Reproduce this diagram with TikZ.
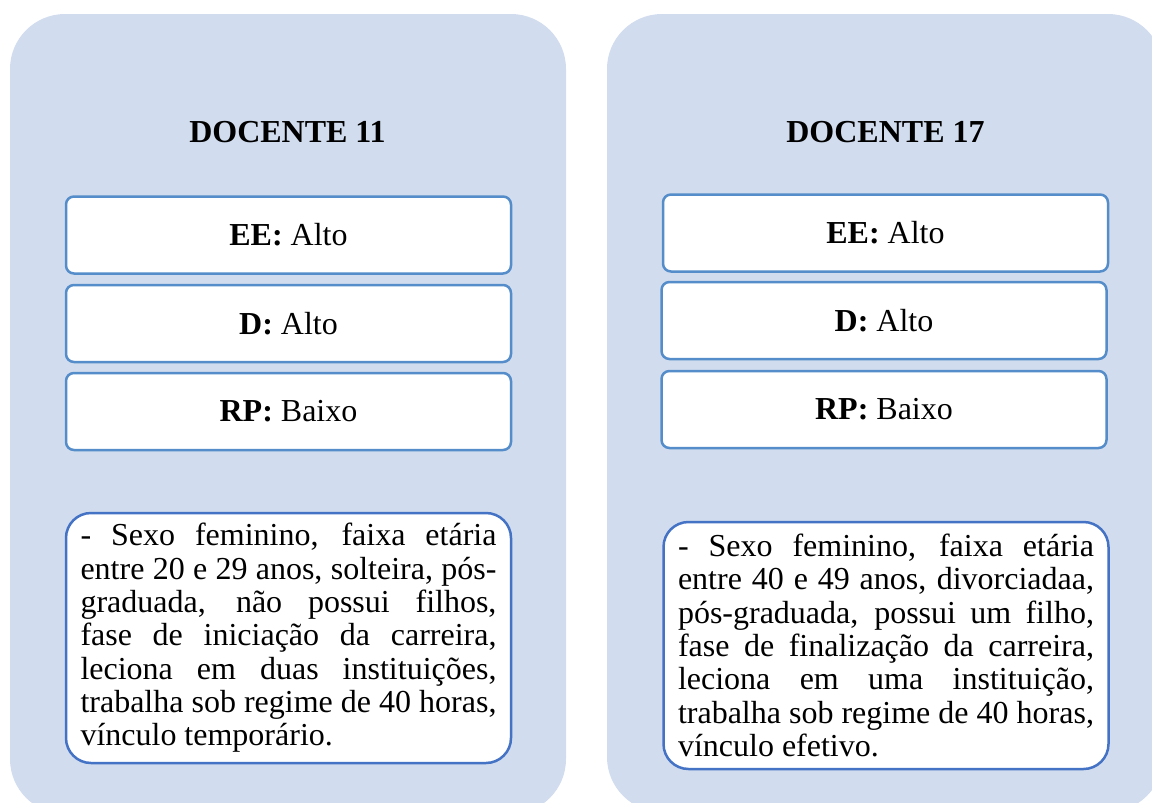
\documentclass[tikz,border=0pt]{standalone}
\usepackage{fontspec}
\setmainfont{Liberation Serif}

\definecolor{painel}{RGB}{209,220,238}
\definecolor{borda}{RGB}{84,141,201}
\definecolor{bordatexto}{RGB}{68,114,196}

\tikzset{
    painel/.style={fill=painel, rounded corners=55pt},
    titulo/.style={font=\fontsize{32}{36}\selectfont\bfseries},
    caixa/.style={draw=borda, line width=2.5pt, fill=white, rounded corners=8pt,
        minimum width=445pt, minimum height=77pt, inner sep=0pt,
        font=\fontsize{32}{36}\selectfont},
    perfil/.style={draw=bordatexto, line width=2.5pt, fill=white, rounded corners=25pt,
        text width=416pt, minimum height=250pt, inner xsep=14.5pt, inner ysep=0pt,
        align=justify, font=\fontsize{32}{33.3}\selectfont}
}

\begin{document}
\begin{tikzpicture}[x=1pt, y=-1pt]
                    \clip (0,0) rectangle (1152,803);

                    % paineis de fundo
                    \fill[painel] (10,14) rectangle (566,814);
                    \fill[painel] (607,14) rectangle (1163,812);

                    % docente 11
                    \node [titulo] (t1) at (287.5,132) {DOCENTE 11};
                    \node [caixa] (ee1) at (288.5,235)   {\textbf{EE:} Alto};
                    \node [caixa] (d1)  at (288.5,323.5) {\textbf{D:} Alto};
                    \node [caixa] (rp1) at (288.5,411.5) {\textbf{RP:} Baixo};
                    \node [perfil] (p1) at (288.5,638)
                        {- Sexo feminino, faixa etária\linebreak
                         entre 20 e 29 anos, solteira, pós-\linebreak
                         graduada, não possui filhos,\linebreak
                         fase de iniciação da carreira,\linebreak
                         leciona em duas instituições,\linebreak
                         trabalha sob regime de 40 horas,\linebreak
                         vínculo temporário.};

                    % docente 17
                    \node [titulo] (t2) at (885.5,132) {DOCENTE 17};
                    \node [caixa] (ee2) at (885.5,233)   {\textbf{EE:} Alto};
                    \node [caixa] (d2)  at (884,320.5)   {\textbf{D:} Alto};
                    \node [caixa] (rp2) at (884,409.5)   {\textbf{RP:} Baixo};
                    \node [perfil, minimum height=247pt] (p2) at (886,645.5)
                        {- Sexo feminino, faixa etária\linebreak
                         entre 40 e 49 anos, divorciadaa,\linebreak
                         pós-graduada, possui um filho,\linebreak
                         fase de finalização da carreira,\linebreak
                         leciona em uma instituição,\linebreak
                         trabalha sob regime de 40 horas,\linebreak
                         vínculo efetivo.};
                \end{tikzpicture}
\end{document}
